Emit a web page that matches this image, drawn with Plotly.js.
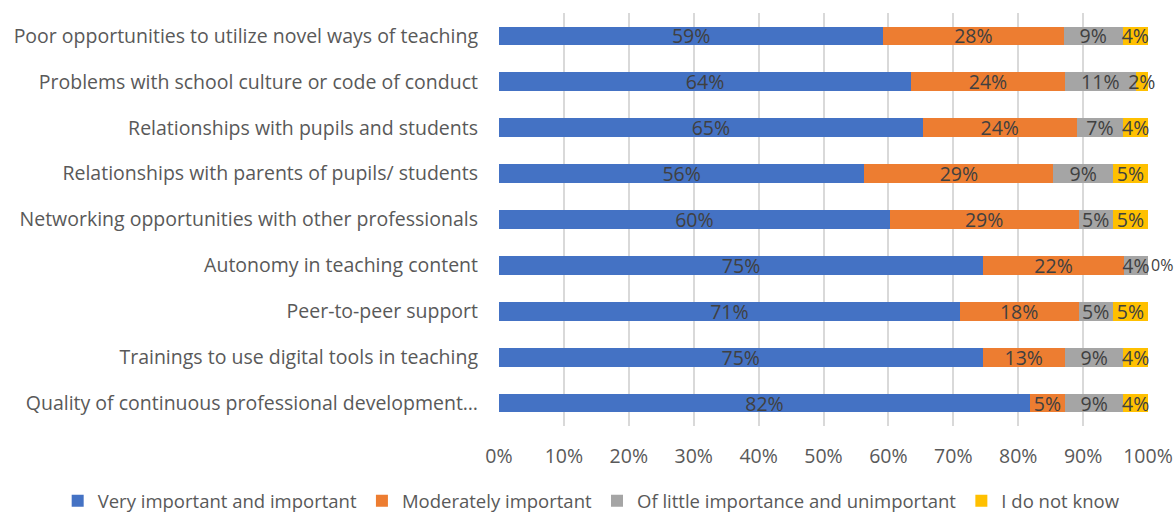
<!DOCTYPE html>
<html>
<head>
<meta charset="utf-8">
<script src="https://cdn.plot.ly/plotly-3.0.1.min.js"></script>
<style>html,body{margin:0;padding:0;background:#fff;}#chart{width:1174px;height:514px;}</style>
</head>
<body>
<div id="chart"></div>
<script>
const categories = [
  "Poor opportunities to utilize novel ways of teaching",
  "Problems with school culture or code of conduct",
  "Relationships with pupils and students",
  "Relationships with parents of pupils/ students",
  "Networking opportunities with other professionals",
  "Autonomy in teaching content",
  "Peer-to-peer support",
  "Trainings to use digital tools in teaching",
  "Quality of continuous professional development…"
];
const seriesNames = [
  "Very important and important",
  "Moderately important",
  "Of little importance and unimportant",
  "I do not know"
];
const veryImportant = [59.2, 63.5, 65.3, 56.4, 60.2, 74.6, 71.0, 74.5, 81.8];
const moderately    = [27.8, 23.7, 23.7, 29.2, 29.1, 21.7, 18.3, 12.7, 5.4];
const littleImport  = [ 9.1, 10.9,  7.2,  9.2,  5.3,  3.7,  5.3,  9.0, 9.0];
const doNotKnow     = [ 3.9,  1.9,  3.8,  5.4,  5.4,  0.0,  5.4,  3.8, 3.8];
const xTickVals = [0,10,20,30,40,50,60,70,80,90,100];
const xTickText = ["0%","10%","20%","30%","40%","50%","60%","70%","80%","90%","100%"];

const colors = ["#4472C4", "#ED7D31", "#A5A5A5", "#FFC000"];
const allSeries = [veryImportant, moderately, littleImport, doNotKnow];

const FONT = "Open Sans, sans-serif";
const FS = 19.5;
const traces = allSeries.map((vals, i) => ({
  type: "bar",
  orientation: "h",
  name: seriesNames[i],
  y: categories,
  x: vals,
  marker: {color: colors[i]},
  text: vals.map(v => Math.round(v) + "%"),
  textposition: vals.map(v => (v === 0 ? "outside" : "inside")),
  insidetextanchor: "middle",
  textangle: 0,
  constraintext: "none",
  cliponaxis: false,
  textfont: {color: "#404040", size: vals.map(v => (v === 0 ? 16 : FS)), family: FONT},
  hoverinfo: "name+x"
}));

const layout = {
  width: 1174,
  height: 514,
  margin: {l: 499, r: 26, t: 13, b: 88, autoexpand: false},
  barmode: "stack",
  barnorm: "percent",
  bargap: 0.59,
  paper_bgcolor: "#fff",
  plot_bgcolor: "#fff",
  font: {family: FONT, color: "#595959", size: FS},
  xaxis: {
    range: [0, 100],
    tickvals: xTickVals,
    ticktext: xTickText,
    showgrid: true,
    gridcolor: "#D9D9D9",
    gridwidth: 2,
    zeroline: false,
    showline: false,
    ticks: "",
    ticklabelstandoff: 16,
    tickfont: {size: FS, color: "#595959", family: FONT},
    fixedrange: true
  },
  yaxis: {
    autorange: "reversed",
    type: "category",
    showgrid: false,
    zeroline: false,
    showline: false,
    ticks: "",
    ticklabelstandoff: 20,
    tickfont: {size: FS, color: "#595959", family: FONT},
    fixedrange: true
  },
  legend: {
    orientation: "h",
    x: -0.68,
    xanchor: "left",
    y: -0.136,
    yanchor: "top",
    font: {size: 18.5, color: "#595959", family: FONT},
    traceorder: "normal",
    itemwidth: 30
  },
  showlegend: true
};

Plotly.newPlot("chart", traces, layout, {displayModeBar: false, staticPlot: true});
</script>
</body>
</html>
